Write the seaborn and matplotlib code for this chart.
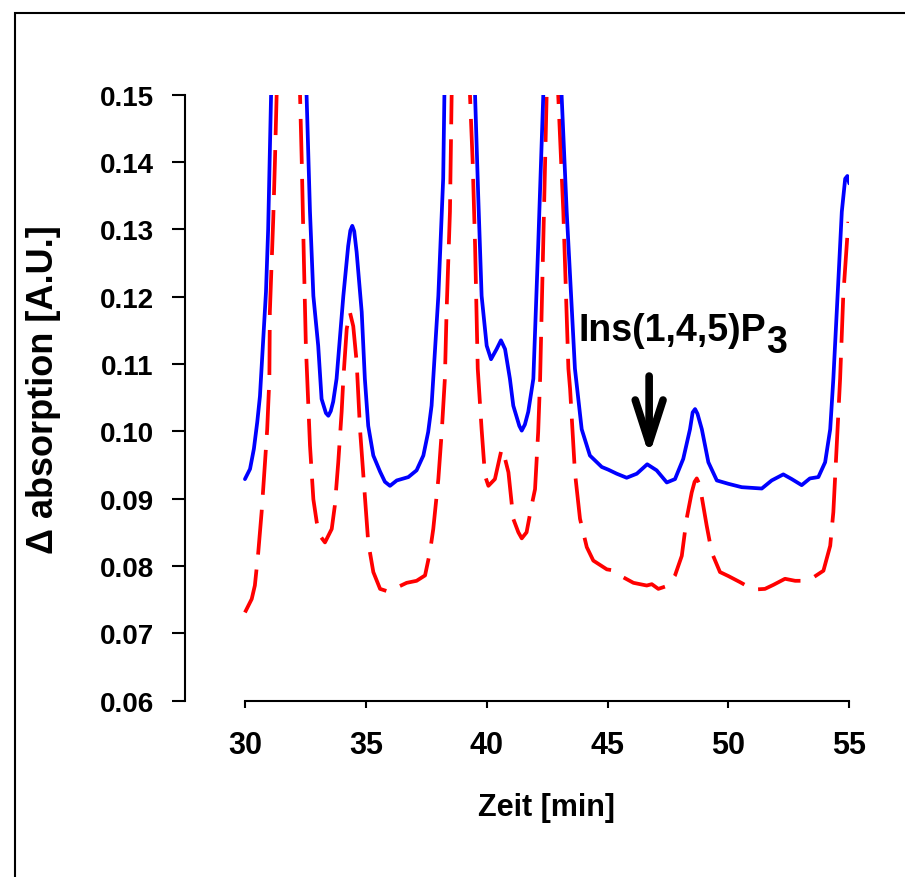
import numpy as np
import pandas as pd
import matplotlib
matplotlib.use("Agg")
import matplotlib.pyplot as plt
import seaborn as sns
from matplotlib.patches import Rectangle

# ---- data ----
blue_time = [30.00, 30.21, 30.37, 30.51, 30.62, 30.87, 30.96, 31.08, 31.82, 32.55, 32.69, 32.83,
             33.03, 33.17, 33.35, 33.45, 33.55, 33.65, 33.79, 34.07, 34.27, 34.36, 34.44, 34.52, 34.62,
             34.83, 34.96, 35.10, 35.31, 35.59, 35.79, 36.00, 36.28, 36.76, 37.10, 37.38, 37.58, 37.72,
             38.00, 38.20, 38.25, 38.90, 39.52, 39.65, 39.79, 40.00, 40.18, 40.41, 40.59, 40.76, 40.96,
             41.10, 41.35, 41.45, 41.58, 41.72, 41.93, 42.13, 42.34, 42.70, 43.10, 43.31, 43.65, 43.93,
             44.27, 44.76, 45.03, 45.38, 45.79, 46.21, 46.64, 47.03, 47.45, 47.79, 48.13, 48.41, 48.52,
             48.62, 48.72, 48.90, 49.17, 49.52, 50.00, 50.55, 51.38, 51.79, 52.27, 52.62, 53.03, 53.37,
             53.72, 54.00, 54.21, 54.34, 54.55, 54.69, 54.83, 54.92, 55.00]
blue_abs = [0.0929, 0.0944, 0.0974, 0.1014, 0.1052, 0.1207, 0.1300, 0.1498, 0.2000, 0.1498, 0.1326, 0.1201,
            0.1127, 0.1048, 0.1027, 0.1023, 0.1030, 0.1044, 0.1078, 0.1201, 0.1275, 0.1298, 0.1305, 0.1297, 0.1266,
            0.1177, 0.1078, 0.1008, 0.0964, 0.0940, 0.0925, 0.0919, 0.0927, 0.0932, 0.0942, 0.0964, 0.0999, 0.1038,
            0.1201, 0.1375, 0.1498, 0.2000, 0.1498, 0.1349, 0.1201, 0.1127, 0.1107, 0.1122, 0.1135, 0.1122, 0.1078,
            0.1038, 0.1008, 0.1001, 0.1010, 0.1029, 0.1078, 0.1275, 0.1498, 0.2000, 0.1498, 0.1326, 0.1093, 0.1003,
            0.0964, 0.0947, 0.0943, 0.0937, 0.0931, 0.0937, 0.0951, 0.0942, 0.0924, 0.0929, 0.0959, 0.1003, 0.1028,
            0.1033, 0.1026, 0.1003, 0.0954, 0.0927, 0.0922, 0.0917, 0.0915, 0.0927, 0.0936, 0.0929, 0.0920, 0.0930,
            0.0932, 0.0954, 0.1003, 0.1078, 0.1226, 0.1326, 0.1375, 0.1379, 0.1368]

red_time = [30.00, 30.28, 30.41, 30.55, 30.69, 30.83, 30.92, 31.01, 31.03, 31.17, 31.24, 31.31, 31.78,
            32.28, 32.35, 32.44, 32.52, 32.69, 32.83, 32.97, 33.10, 33.31, 33.59, 33.72, 33.86, 34.00,
            34.07, 34.21, 34.34, 34.48, 34.62, 34.76, 34.96, 35.10, 35.31, 35.59, 35.93, 36.69, 37.10,
            37.45, 37.65, 37.79, 38.00, 38.14, 38.27, 38.34, 38.48, 38.55, 38.94, 39.31, 39.42, 39.52,
            39.63, 39.79, 39.93, 40.07, 40.34, 40.62, 40.76, 40.90, 41.10, 41.31, 41.45, 41.65, 41.86,
            42.00, 42.13, 42.21, 42.48, 42.70, 42.96, 43.17, 43.38, 43.45, 43.65, 43.86, 44.14, 44.41,
            44.97, 45.31, 45.66, 46.07, 46.62, 46.83, 47.10, 47.51, 47.79, 48.07, 48.27, 48.48, 48.60,
            48.69, 48.78, 48.89, 49.10, 49.31, 49.65, 50.00, 50.48, 51.03, 51.51, 51.86, 52.34, 52.76,
            53.24, 53.51, 53.93, 54.21, 54.34, 54.48, 54.62, 54.75, 54.96]
red_abs = [0.0731, 0.0751, 0.0771, 0.0820, 0.0880, 0.0954, 0.1003, 0.1078, 0.1177, 0.1315, 0.1400, 0.1498, 0.2000,
           0.1498, 0.1400, 0.1251, 0.1127, 0.0979, 0.0899, 0.0865, 0.0845, 0.0835, 0.0855, 0.0890, 0.0954, 0.1029,
           0.1078, 0.1152, 0.1177, 0.1156, 0.1103, 0.1003, 0.0904, 0.0835, 0.0791, 0.0766, 0.0762, 0.0775, 0.0778,
           0.0786, 0.0820, 0.0855, 0.0929, 0.0999, 0.1078, 0.1177, 0.1326, 0.1498, 0.2000, 0.1498, 0.1400, 0.1275,
           0.1093, 0.1003, 0.0934, 0.0919, 0.0929, 0.0974, 0.0959, 0.0939, 0.0870, 0.0850, 0.0841, 0.0850, 0.0890,
           0.0914, 0.0999, 0.1078, 0.1498, 0.2000, 0.1498, 0.1326, 0.1093, 0.1063, 0.0939, 0.0870, 0.0828, 0.0808,
           0.0795, 0.0793, 0.0783, 0.0775, 0.0771, 0.0773, 0.0766, 0.0771, 0.0786, 0.0815, 0.0870, 0.0909, 0.0925,
           0.0930, 0.0923, 0.0904, 0.0860, 0.0820, 0.0791, 0.0785, 0.0776, 0.0765, 0.0766, 0.0772, 0.0781, 0.0778,
           0.0778, 0.0783, 0.0793, 0.0830, 0.0880, 0.0979, 0.1078, 0.1201, 0.1311]

x_ticks = [30, 35, 40, 45, 50, 55]
y_ticks = [0.06, 0.07, 0.08, 0.09, 0.10, 0.11, 0.12, 0.13, 0.14, 0.15]
y_tick_labels = ["0.06", "0.07", "0.08", "0.09", "0.10", "0.11", "0.12", "0.13", "0.14", "0.15"]
x_label = "Zeit [min]"
y_label = "Δ absorption [A.U.]"
peak_label = "Ins(1,4,5)P"
peak_label_sub = "3"
peak_time = 46.72
peak_value = 0.0964

# ---- style ----
sns.set_style("ticks")
plt.rcParams["font.family"] = ["Liberation Sans", "DejaVu Sans"]
plt.rcParams["font.weight"] = "bold"
plt.rcParams["text.color"] = "black"
plt.rcParams["axes.labelcolor"] = "black"
plt.rcParams["xtick.color"] = "black"
plt.rcParams["ytick.color"] = "black"

W, H = 905, 878
fig = plt.figure(figsize=(W / 100, H / 100), dpi=100)
ax_left, ax_right, ax_top, ax_bottom = 185, 849.3, 95.5, 701.7
ax = fig.add_axes([ax_left / W, 1 - ax_bottom / H, (ax_right - ax_left) / W, (ax_bottom - ax_top) / H])

blue_df = pd.DataFrame({"time": blue_time, "abs": blue_abs})
red_df = pd.DataFrame({"time": red_time, "abs": red_abs})

sns.lineplot(data=red_df, x="time", y="abs", ax=ax, color="#ff0000", linewidth=2.7,
             estimator=None, sort=False, linestyle=(0, (12, 4)))
sns.lineplot(data=blue_df, x="time", y="abs", ax=ax, color="#0000ff", linewidth=2.7,
             estimator=None, sort=False)

ax.set_xlim(27.52, 55.0)
ax.set_ylim(0.06, 0.15)
ax.set_xticks(x_ticks)
ax.set_xticklabels([str(t) for t in x_ticks])
ax.set_yticks(y_ticks)
ax.set_yticklabels(y_tick_labels)

for s in ["top", "right"]:
    ax.spines[s].set_visible(False)
ax.spines["bottom"].set_bounds(30, 55)
ax.spines["left"].set_bounds(0.06, 0.15)
for s in ["bottom", "left"]:
    ax.spines[s].set_linewidth(1.5)
    ax.spines[s].set_color("black")

ax.tick_params(axis="y", length=9.5, width=1.5, pad=13, labelsize=20, colors="black", direction="out")
ax.tick_params(axis="x", length=5, width=1.5, pad=16, labelsize=22, colors="black", direction="out")

ax.set_xlabel(x_label, fontsize=22, fontweight="bold", color="black")
ax.set_ylabel(y_label, fontsize=26, fontweight="bold", color="black")
ax.xaxis.label.set_va("center")
ax.yaxis.label.set_va("center")
ax.xaxis.set_label_coords(0.5445, -0.175)
ax.yaxis.set_label_coords(-0.2123, 0.515)

# annotation
t = ax.text(43.78, 0.1136, peak_label, fontsize=27, fontweight="bold", ha="left", va="baseline",
            color="black")
ax.annotate(peak_label_sub, xy=(1, 0.1136), xycoords=(t, "data"), xytext=(0.5, -9),
            textcoords="offset points", fontsize=27, fontweight="bold", ha="left", va="baseline",
            color="black")
ax.annotate("", xy=(peak_time, peak_value), xytext=(peak_time, 0.1082),
            arrowprops=dict(arrowstyle="->,head_length=1.55,head_width=0.5", lw=5.5, color="black",
                            shrinkA=0, shrinkB=0, mutation_scale=20, capstyle="round", joinstyle="round"))

# figure frame
fig.add_artist(Rectangle((15 / W, -0.05), 1.2, 1 - 14 / H + 0.05, transform=fig.transFigure,
                         fill=False, lw=1.5, ec="black"))

fig.savefig("out.png", dpi=100)
